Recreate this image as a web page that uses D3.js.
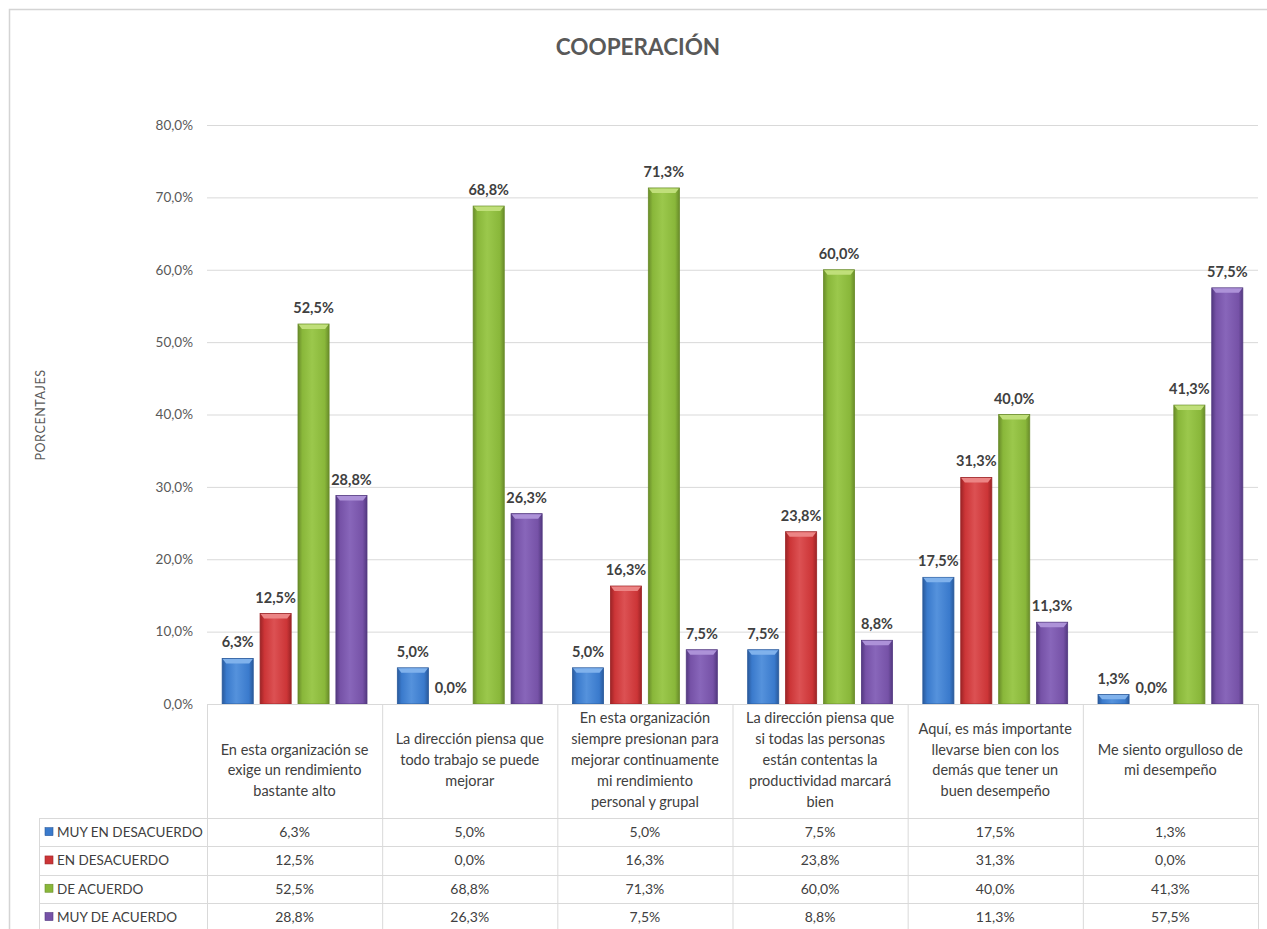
<!DOCTYPE html>
<html>
<head>
<meta charset="utf-8">
<script src="https://cdn.jsdelivr.net/npm/d3@7"></script>
<style>
  html, body { margin: 0; padding: 0; background: #ffffff; }
  svg { display: block; }
  text { font-family: "Lato", "Liberation Sans", sans-serif; }
</style>
</head>
<body>
<svg id="chart" width="1267" height="929"></svg>
<script>
// Survey block: "Cooperación" — share of answers per statement
const categories = [
  ["", "En esta organización se", "exige un rendimiento", "bastante alto"],
  ["La dirección piensa que", "todo trabajo se puede", "mejorar"],
  ["En esta organización", "siempre presionan para", "mejorar continuamente", "mi rendimiento", "personal y grupal"],
  ["La dirección piensa que", "si todas las personas", "están contentas la", "productividad marcará", "bien"],
  ["Aquí, es más importante", "llevarse bien con los", "demás que tener un", "buen desempeño"],
  ["Me siento orgulloso de", "mi desempeño"]
];
const seriesNames = ["MUY EN DESACUERDO", "EN DESACUERDO", "DE ACUERDO", "MUY DE ACUERDO"];
const muyEnDesacuerdo = [6.3, 5.0, 5.0, 7.5, 17.5, 1.3];
const enDesacuerdo    = [12.5, 0.0, 16.3, 23.8, 31.3, 0.0];
const deAcuerdo       = [52.5, 68.8, 71.3, 60.0, 40.0, 41.3];
const muyDeAcuerdo    = [28.8, 26.3, 7.5, 8.8, 11.3, 57.5];
const seriesValues = [muyEnDesacuerdo, enDesacuerdo, deAcuerdo, muyDeAcuerdo];
const yTicks = [0, 10, 20, 30, 40, 50, 60, 70, 80];
const titleText = "COOPERACIÓN";
const yAxisTitle = "PORCENTAJES";

// Bar shading: [edge, body, highlight, bevel]
const palette = [
  ["#2a5a9c", "#3a7acc", "#5592dc", "#80b2ec"],
  ["#9c2426", "#cc3537", "#dc5153", "#ec8585"],
  ["#698c2a", "#89b73a", "#9bc84c", "#c0df7a"],
  ["#533980", "#7652a7", "#8866ba", "#ad92d8"]
];

const fmt = v => v.toFixed(1).replace(".", ",") + "%";

const svg = d3.select("#chart");
const plot = { left: 207, right: 1258, top: 125, bottom: 704 };

// outer frame of the chart area
svg.append("rect")
  .attr("x", 9.5).attr("y", 9.5)
  .attr("width", 1300).attr("height", 1000)
  .attr("fill", "none").attr("stroke", "#d4d4d4").attr("stroke-width", 1.5);

// title
svg.append("text")
  .attr("x", 638).attr("y", 55)
  .attr("text-anchor", "middle")
  .attr("font-size", 22.5).attr("font-weight", 700)
  .attr("fill", "#595959")
  .text(titleText);

const x0 = d3.scaleBand()
  .domain(d3.range(categories.length))
  .range([plot.left, plot.right])
  .paddingInner(0).paddingOuter(0);

const x1 = d3.scaleBand()
  .domain(d3.range(seriesNames.length))
  .range([0, x0.bandwidth()])
  .paddingInner(0.18).paddingOuter(0.4);

const y = d3.scaleLinear().domain([0, 80]).range([plot.bottom, plot.top]);

// horizontal gridlines + tick labels
const yAxis = d3.axisLeft(y)
  .tickValues(yTicks)
  .tickSize(-(plot.right - plot.left))
  .tickPadding(14)
  .tickFormat(fmt);

const gy = svg.append("g")
  .attr("transform", `translate(${plot.left},0)`)
  .call(yAxis);
gy.select(".domain").remove();
gy.selectAll(".tick line").attr("stroke", "#d9d9d9").attr("stroke-width", 1);
gy.selectAll(".tick text")
  .attr("font-family", "Lato, sans-serif")
  .attr("font-size", 13.5).attr("fill", "#595959");

// y axis title
svg.append("text")
  .attr("transform", "translate(45,415) rotate(-90)")
  .attr("text-anchor", "middle")
  .attr("font-family", "'DejaVu Sans', sans-serif")
  .attr("font-size", 12.5).attr("letter-spacing", 0.6)
  .attr("fill", "#595959")
  .text(yAxisTitle);

// gradients
const defs = svg.append("defs");
palette.forEach((c, i) => {
  const g = defs.append("linearGradient")
    .attr("id", "barGrad" + i)
    .attr("x1", 0).attr("x2", 1).attr("y1", 0).attr("y2", 0);
  [[0, c[0]], [0.14, c[1]], [0.45, c[2]], [0.86, c[1]], [1, c[0]]]
    .forEach(([o, col]) => g.append("stop").attr("offset", o).attr("stop-color", col));
});

// bars
const barData = [];
seriesValues.forEach((vals, s) => {
  vals.forEach((v, c) => barData.push({ s, c, v }));
});

const bars = svg.append("g").attr("class", "bars");
barData.forEach(d => {
  const bx = x0(d.c) + x1(d.s);
  const bw = x1.bandwidth();
  const by = y(d.v);
  const bh = y(0) - by;
  if (bh <= 0) return;
  bars.append("rect")
    .attr("x", bx).attr("y", by)
    .attr("width", bw).attr("height", bh)
    .attr("fill", `url(#barGrad${d.s})`)
    .attr("stroke", palette[d.s][0]).attr("stroke-width", 0.8);
  const bev = Math.min(5, bh / 2);
  bars.append("polygon")
    .attr("points", [
      [bx + 0.5, by + 0.5], [bx + bw - 0.5, by + 0.5],
      [bx + bw - 4, by + bev], [bx + 4, by + bev]
    ].map(p => p.join(",")).join(" "))
    .attr("fill", palette[d.s][3]);
});

// value labels above bars
svg.append("g").selectAll("text")
  .data(barData)
  .join("text")
  .attr("x", d => x0(d.c) + x1(d.s) + x1.bandwidth() / 2)
  .attr("y", d => y(d.v) - 11)
  .attr("text-anchor", "middle")
  .attr("font-size", 14.5).attr("font-weight", 700)
  .attr("fill", "#404040")
  .text(d => fmt(d.v));

// data table under the plot
const rowTop = 818, rowH = 28.3;
const tableLeft = 39;
const line = (x1_, y1_, x2_, y2_) => svg.append("line")
  .attr("x1", x1_).attr("y1", y1_).attr("x2", x2_).attr("y2", y2_)
  .attr("stroke", "#d9d9d9").attr("stroke-width", 1);

// category axis line
line(plot.left, plot.bottom + 0.5, plot.right, plot.bottom + 0.5);
// column separators
d3.range(categories.length + 1).forEach(i => {
  const xx = (i < categories.length ? x0(i) : plot.right) + 0.5;
  line(xx, plot.bottom, xx, 929);
});
// legend column left edge
line(tableLeft + 0.5, rowTop, tableLeft + 0.5, 929);
// row separators
d3.range(seriesNames.length + 1).forEach(r => {
  const yy = Math.round(rowTop + r * rowH) + 0.5;
  line(tableLeft, yy, plot.right, yy);
});

// category labels (header row)
categories.forEach((lines, i) => {
  const cx = x0(i) + x0.bandwidth() / 2;
  const lh = 20.8;
  const startY = 760 - (lines.length - 1) * lh / 2 + 5;
  const t = svg.append("text")
    .attr("text-anchor", "middle")
    .attr("font-size", 14.5).attr("fill", "#404040");
  lines.forEach((ln, k) => {
    t.append("tspan").attr("x", cx).attr("y", startY + k * lh).text(ln);
  });
});

// legend keys + series names + values
seriesNames.forEach((name, r) => {
  const cy = rowTop + r * rowH + rowH / 2;
  svg.append("rect")
    .attr("x", 45).attr("y", cy - 4.5)
    .attr("width", 8).attr("height", 8)
    .attr("fill", palette[r][1]).attr("stroke", palette[r][0]).attr("stroke-width", 0.6);
  svg.append("text")
    .attr("x", 57).attr("y", cy + 5)
    .attr("font-size", 13.5).attr("fill", "#404040")
    .text(name);
  seriesValues[r].forEach((v, c) => {
    svg.append("text")
      .attr("x", x0(c) + x0.bandwidth() / 2).attr("y", cy + 5)
      .attr("text-anchor", "middle")
      .attr("font-size", 14).attr("fill", "#404040")
      .text(fmt(v));
  });
});
</script>
</body>
</html>
